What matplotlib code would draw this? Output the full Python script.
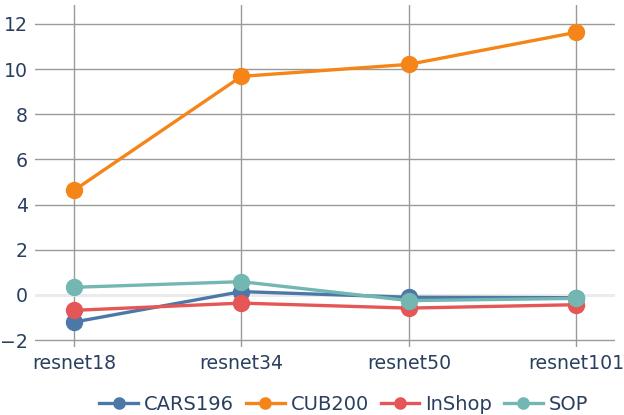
import matplotlib.pyplot as plt

models = ["resnet18", "resnet34", "resnet50", "resnet101"]
cars196 = [-1.2, 0.15, -0.1, -0.12]
cub200 = [4.63, 9.68, 10.21, 11.63]
inshop = [-0.68, -0.36, -0.58, -0.43]
sop = [0.34, 0.59, -0.25, -0.15]

series = [("CARS196", cars196, "#4C78A8"),
          ("CUB200", cub200, "#F58518"),
          ("InShop", inshop, "#E45756"),
          ("SOP", sop, "#72B7B2")]

txt = "#2a3f5f"
fig = plt.figure(figsize=(6.24, 4.15), dpi=100)
ax = fig.add_axes([0.056, 0.164, 0.93, 0.824])

x = list(range(len(models)))
for name, vals, col in series:
    ax.plot(x, vals, color=col, lw=2.4, marker="o", ms=11.5, label=name, zorder=3)

ax.set_xlim(-0.233, 3.233)
ax.set_ylim(-2.3, 12.84)
ax.set_xticks(x)
ax.set_xticklabels(models)
ax.set_yticks(range(-2, 13, 2))
ax.set_yticklabels(["\u22122", "0", "2", "4", "6", "8", "10", "12"])
ax.grid(True, color="#9a9a9a", lw=1)
ax.axhline(0, color="#ebebeb", lw=2, zorder=1)
for s in ax.spines.values():
    s.set_visible(False)
ax.tick_params(length=0, labelsize=13.6, colors=txt, pad=5)
ax.set_axisbelow(True)

ax.legend(loc="upper center", bbox_to_anchor=(0.532, -0.09), ncol=4, frameon=False,
          fontsize=14, labelcolor=txt, handlelength=2.0, handletextpad=0.3,
          columnspacing=0.6, markerscale=0.7)

fig.savefig("out.png", dpi=100)
